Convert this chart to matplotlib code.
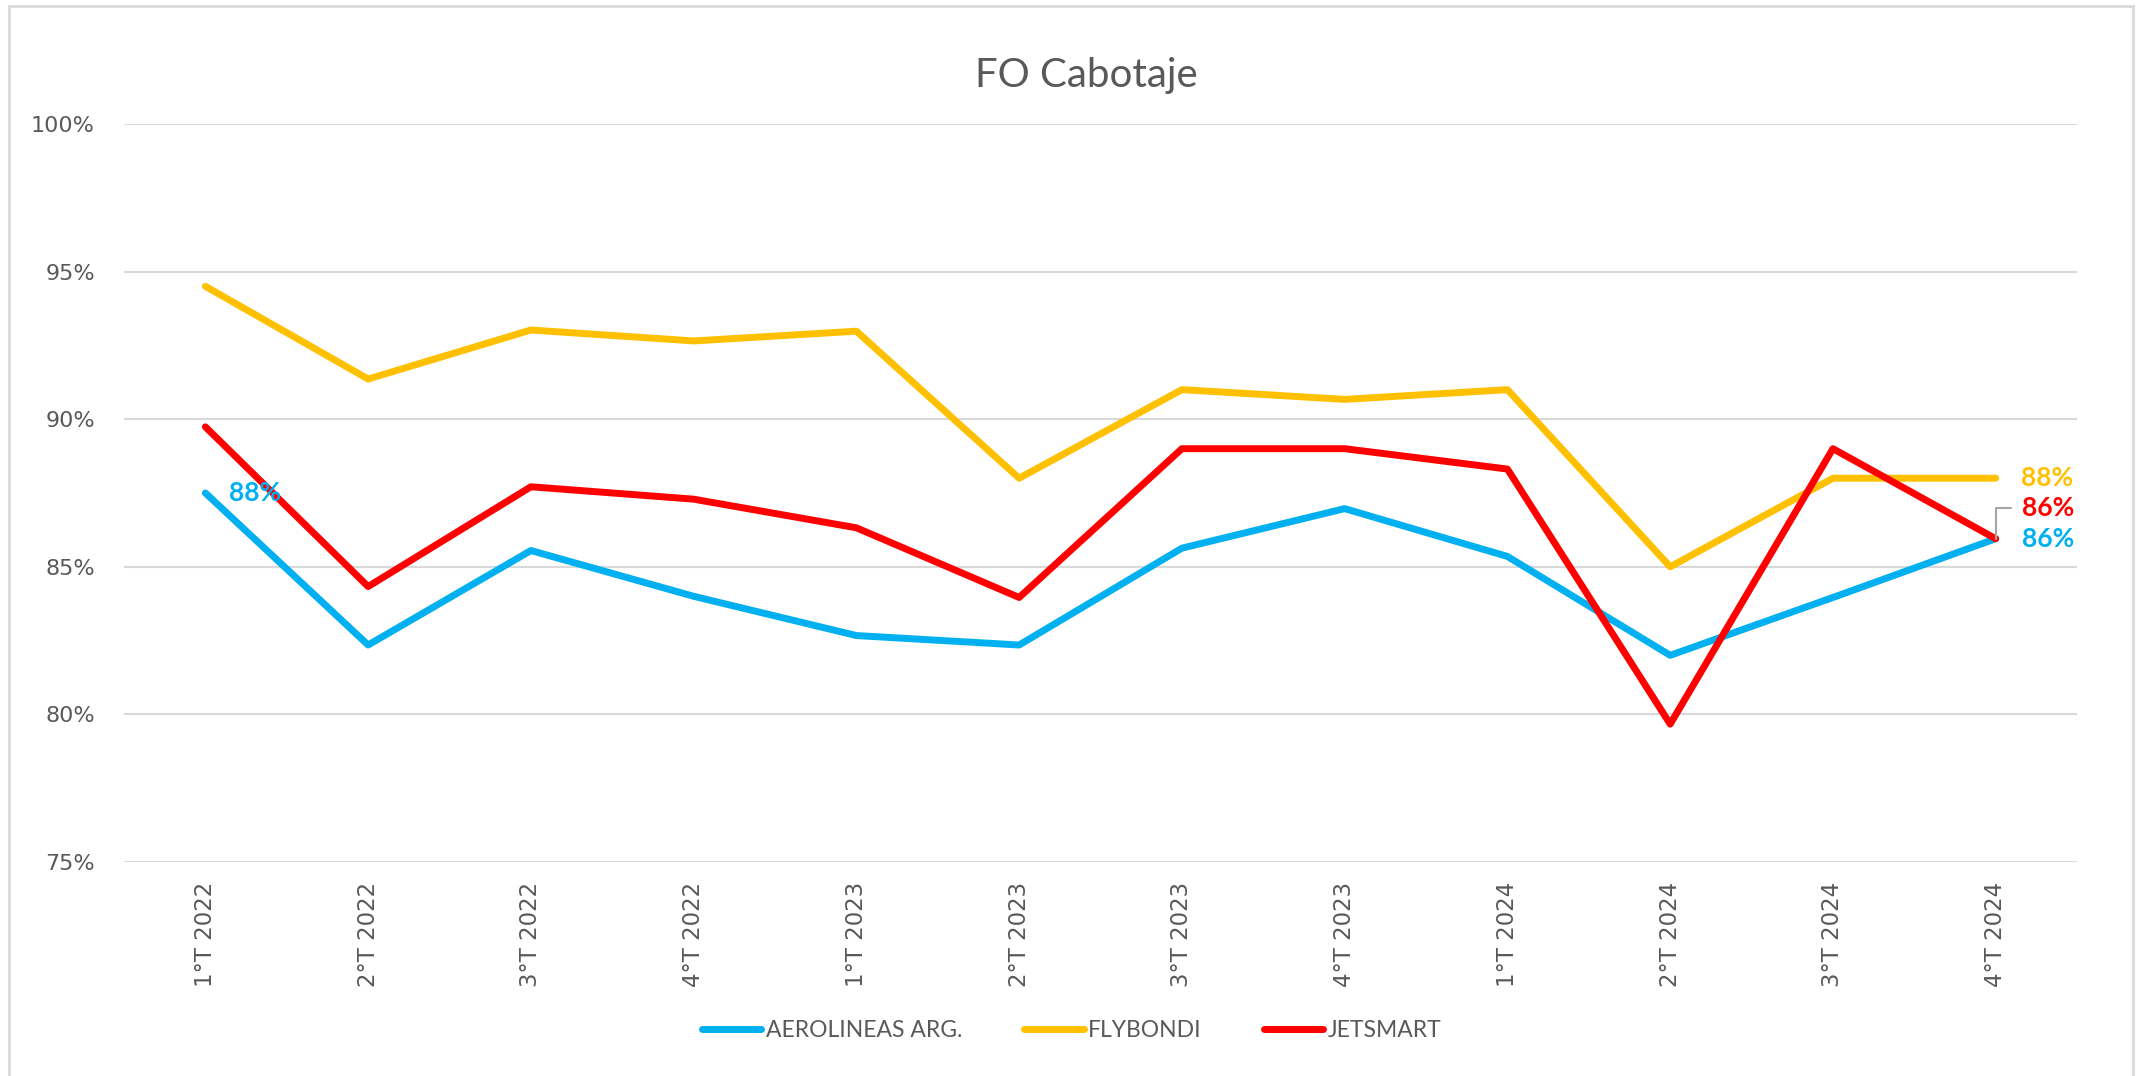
import matplotlib
matplotlib.use("Agg")
import matplotlib.pyplot as plt
from matplotlib.patches import Rectangle
from matplotlib.ticker import FuncFormatter, MultipleLocator

categories = ["1°T 2022", "2°T 2022", "3°T 2022", "4°T 2022",
              "1°T 2023", "2°T 2023", "3°T 2023", "4°T 2023",
              "1°T 2024", "2°T 2024", "3°T 2024", "4°T 2024"]
aerolineas = [87.5, 82.35, 85.55, 84.0, 82.67, 82.35, 85.63, 86.97, 85.35, 82.0, 83.96, 85.95]
flybondi = [94.5, 91.36, 93.02, 92.65, 92.98, 88.0, 91.0, 90.67, 91.0, 85.0, 88.0, 88.0]
jetsmart = [89.74, 84.33, 87.71, 87.29, 86.32, 83.96, 89.0, 89.0, 88.31, 79.67, 89.0, 85.95]
series_names = ["AEROLINEAS ARG.", "FLYBONDI", "JETSMART"]
colors = ["#00B0F0", "#FFC000", "#FF0000"]

fig = plt.figure(figsize=(21.38, 10.76), dpi=100)
ax = fig.add_axes([0.058, 0.1989, 0.9135, 0.6859])

x = list(range(len(categories)))
data = [aerolineas, flybondi, jetsmart]
for vals, name, c in zip(data, series_names, colors):
    ax.plot(x, vals, color=c, lw=5, solid_capstyle="round", solid_joinstyle="round", label=name)

ax.set_xlim(-0.5, len(categories) - 0.5)
ax.set_ylim(75, 100)
ax.yaxis.set_major_locator(MultipleLocator(5))
ax.yaxis.set_major_formatter(FuncFormatter(lambda v, p: f"{v:.0f}%"))
ax.set_xticks(x)
ax.set_xticklabels(categories, rotation=90)
ax.grid(axis="y", color="#d9d9d9", lw=1.5)
ax.set_axisbelow(True)
for s in ax.spines.values():
    s.set_visible(False)
ax.tick_params(axis="both", length=0, colors="#595959")
ax.tick_params(axis="y", pad=21, labelsize=16)
ax.tick_params(axis="x", pad=14, labelsize=16.5)

fig.text(797 / 1568, 1 - 55 / 789, "FO Cabotaje", fontsize=29, color="#595959",
         family="Lato", ha="center", va="center")

# data labels
lab_kw = dict(textcoords="offset points", fontsize=19, fontweight="bold", family="Lato", va="center", ha="left")
ax.annotate(f"{round(aerolineas[0]+0.01):.0f}%", xy=(0, aerolineas[0]), xytext=(17, 0), color=colors[0], **lab_kw)
ax.annotate(f"{round(flybondi[-1]):.0f}%", xy=(11, flybondi[-1]), xytext=(18, 0), color=colors[1], **lab_kw)
ax.annotate(f"{round(aerolineas[-1]):.0f}%", xy=(11, aerolineas[-1]), xytext=(19, 0), color=colors[0], **lab_kw)
ax.annotate(f"{round(jetsmart[-1]):.0f}%", xy=(11, jetsmart[-1]), xytext=(19, 22), color=colors[2],
            arrowprops=dict(arrowstyle="-", color="#a6a6a6", lw=1.5,
                            connectionstyle="angle,angleA=0,angleB=90,rad=0",
                            shrinkA=6, shrinkB=0),
            **lab_kw)

leg = fig.legend(loc="center", bbox_to_anchor=(786 / 1568, 1 - 756 / 789), ncol=3, frameon=False,
                 prop={"family": "Lato", "size": 16.5}, handlelength=2.6, columnspacing=2.7,
                 handletextpad=0.2)
for t in leg.get_texts():
    t.set_color("#595959")

fig.patches.append(Rectangle((9 / 2138, -0.02), (2133 - 9) / 2138, 0.02 + 1 - 6 / 1076,
                             transform=fig.transFigure, fill=False, edgecolor="#d9d9d9", lw=2))

fig.savefig("out.png", dpi=100)
